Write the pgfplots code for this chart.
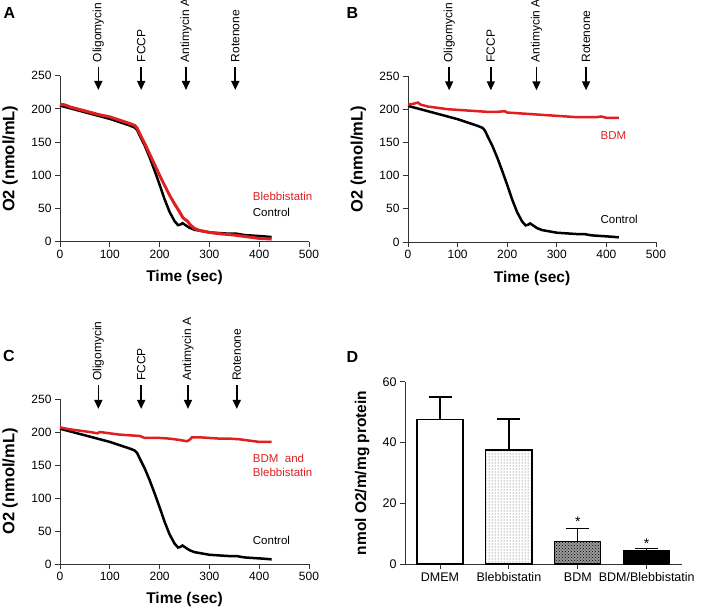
\documentclass[border=0pt]{standalone}
\usepackage{fontspec}
\setmainfont{Liberation Sans}
\usepackage{pgfplots}
\pgfplotsset{compat=1.18}
\usetikzlibrary{patterns,arrows.meta}
\definecolor{myred}{RGB}{222,32,32}
\definecolor{axgray}{RGB}{50,50,50}

\pgfplotstableread{
t o
0 205
20 201
40 197
60 193
75 190
85 188
100 185
120 180
140 175
150 172
155 168
160 160
170 145
180 127
190 107
200 86
210 64
220 45
230 31
237 25
242 26
246 28
252 25
260 21
270 18
285 16
300 14
320 13
340 12
355 12
370 10
390 9
410 8
425 7
}\control

\pgfplotstableread{
t o
0 207
10 206
20 203
40 199
60 195
80 191
100 188
120 183
140 178
150 175
155 171
160 163
170 148
180 132
190 116
200 100
210 85
220 70
230 57
240 45
247 36
252 33
256 31
262 25
270 20
280 17
300 14
320 12
350 10
380 7
400 5
425 4
}\blebb

\pgfplotstableread{
t o
0 207
10 208
20 210
25 207
40 204
60 202
80 200
100 199
120 198
140 197
160 196
180 196
195 197
200 195
220 194
240 193
260 192
280 191
300 190
320 189
340 188
360 188
380 188
390 189
400 187
425 187
}\bdm

\pgfplotstableread{
t o
0 207
20 204
40 202
60 200
75 198
80 200
100 198
120 196
140 195
160 194
170 191
200 191
220 190
240 188
255 186
260 188
265 192
280 192
300 191
320 190
340 190
360 189
380 187
400 185
425 185
}\both

\pgfplotsset{
 curve/.style={
  scale only axis, width=249pt, height=166pt,
  xmin=0,xmax=500,ymin=0,ymax=250,
  axis lines=left, axis line style={-, line width=0.9pt, axgray},
  xtick={0,100,...,500}, ytick={0,50,...,250},
  tick align=outside, major tick length=5pt, tick style={line width=0.9pt,axgray},
  ticklabel style={font=\fontsize{12}{14}\selectfont},
  /pgf/number format/assume math mode=true,
  xlabel={Time (sec)}, ylabel={O2 (nmol/mL)},
  xlabel style={font=\bfseries\fontsize{15.5}{17}\selectfont, at={(axis description cs:0.5,-0.217)}, anchor=center},
  ylabel style={font=\bfseries\fontsize{16.5}{18}\selectfont, at={(axis description cs:-0.2,0.5)}, anchor=center},
  clip=false,
 },
}
\tikzset{
 drug/.style={line width=1.6pt, -{Triangle[length=9pt,width=8pt]}},
 druglab/.style={rotate=90, anchor=west, inner sep=0pt, font=\fontsize{12}{14}\selectfont},
 serlab/.style={anchor=west, inner sep=0pt, font=\fontsize{11.5}{13.5}\selectfont},
}

\begin{document}
\begin{tikzpicture}
\useasboundingbox (0,0) rectangle (709pt,-610pt);

% Panel A
\begin{axis}[curve, at={(60pt,-241.7pt)}, anchor=south west]
\addplot[black, line width=2.5pt] table[x=t,y=o] {\control};
\addplot[myred, line width=3pt] table[x=t,y=o] {\blebb};
\draw[drug] (axis cs:77,263.6) -- (axis cs:77,228.5);
\draw[drug] (axis cs:163,263.6) -- (axis cs:163,228.5);
\draw[drug] (axis cs:253,263.6) -- (axis cs:253,228.5);
\draw[drug] (axis cs:352,263.6) -- (axis cs:352,228.5);
\node[druglab] at (axis cs:77,270) {Oligomycin};
\node[druglab] at (axis cs:163,270) {FCCP};
\node[druglab] at (axis cs:253,270) {Antimycin A};
\node[druglab] at (axis cs:352,270) {Rotenone};
\node[serlab, text=myred] at (axis cs:387,68.5) {Blebbistatin};
\node[serlab] at (axis cs:387,44.5) {Control};
\end{axis}

% Panel B
\begin{axis}[curve, at={(408pt,-242pt)}, anchor=south west, width=248pt]
\addplot[black, line width=2.5pt] table[x=t,y=o] {\control};
\addplot[myred, line width=2.5pt] table[x=t,y=o] {\bdm};
\draw[drug] (axis cs:83,263.6) -- (axis cs:83,228.5);
\draw[drug] (axis cs:167,263.6) -- (axis cs:167,228.5);
\draw[drug] (axis cs:259,263.6) -- (axis cs:259,228.5);
\draw[drug] (axis cs:359,263.6) -- (axis cs:359,228.5);
\node[druglab] at (axis cs:83,270) {Oligomycin};
\node[druglab] at (axis cs:167,270) {FCCP};
\node[druglab] at (axis cs:259,270) {Antimycin A};
\node[druglab] at (axis cs:359,270) {Rotenone};
\node[serlab, text=myred] at (axis cs:388,160) {BDM};
\node[serlab] at (axis cs:388,34) {Control};
\end{axis}

% Panel C
\begin{axis}[curve, at={(60pt,-564pt)}, anchor=south west, height=165pt]
\addplot[black, line width=2.5pt] table[x=t,y=o] {\control};
\addplot[myred, line width=2.5pt] table[x=t,y=o] {\both};
\draw[drug] (axis cs:77,271) -- (axis cs:77,235);
\draw[drug] (axis cs:163,271) -- (axis cs:163,235);
\draw[drug] (axis cs:257,271) -- (axis cs:257,235);
\draw[drug] (axis cs:355,271) -- (axis cs:355,235);
\node[druglab] at (axis cs:77,277) {Oligomycin};
\node[druglab] at (axis cs:163,277) {FCCP};
\node[druglab] at (axis cs:257,277) {Antimycin A};
\node[druglab] at (axis cs:355,277) {Rotenone};
\node[serlab, text=myred, anchor=north west, align=left] at (axis cs:387,166) {BDM\ \ and\\Blebbistatin};
\node[serlab] at (axis cs:387,36) {Control};
\end{axis}

% Panel D
\begin{axis}[at={(405pt,-564pt)}, anchor=south west,
  scale only axis, width=276.7pt, height=182.3pt,
  xmin=-0.508, xmax=3.508, ymin=0, ymax=60,
  ytick={0,20,40,60}, xtick={0,1,2,3},
  xticklabels={DMEM,Blebbistatin,BDM,BDM/Blebbistatin},
  axis lines=left, axis line style={-, line width=0.9pt, axgray},
  tick align=outside, major tick length=5pt, tick style={line width=0.9pt,axgray},
  ticklabel style={font=\fontsize{12.5}{14}\selectfont},
  /pgf/number format/assume math mode=true,
  ylabel={nmol O2/m/mg protein},
  ylabel style={font=\bfseries\fontsize{15.5}{17}\selectfont, at={(axis description cs:-0.155,0.5)}, anchor=center},
  ybar, bar width=0.668, bar shift=0pt, clip=false,
  error bars/y dir=plus, error bars/y explicit,
  error bars/error bar style={line width=1.3pt, black},
  error bars/error mark options={line width=1.3pt, black, rotate=90, mark size=11.5pt},
]
\addplot[draw=black, line width=1.2pt, fill=white] coordinates {(0,47.5) +- (0,7.5)};
\addplot[draw=black, line width=1.2pt, fill=white, postaction={pattern=dots, pattern color=black!75}] coordinates {(1,37.5) +- (0,10.2)};
\addplot[draw=black, line width=1.2pt, fill=black!40, postaction={pattern=crosshatch dots, pattern color=black}] coordinates {(2,7.5) +- (0,4.3)};
\addplot[draw=black, line width=1.2pt, fill=black] coordinates {(3,4.3) +- (0,0.9)};
\node[font=\fontsize{14}{14}\selectfont] at (axis cs:2,14.0) {*};
\node[font=\fontsize{14}{14}\selectfont] at (axis cs:3,6.8) {*};
\end{axis}

\node[font=\bfseries\fontsize{16}{18}\selectfont] at (9.5pt,-12.5pt) {A};
\node[font=\bfseries\fontsize{16}{18}\selectfont] at (352.5pt,-12.5pt) {B};
\node[font=\bfseries\fontsize{16}{18}\selectfont] at (9pt,-356pt) {C};
\node[font=\bfseries\fontsize{16}{18}\selectfont] at (352.5pt,-357pt) {D};
\end{tikzpicture}
\end{document}
